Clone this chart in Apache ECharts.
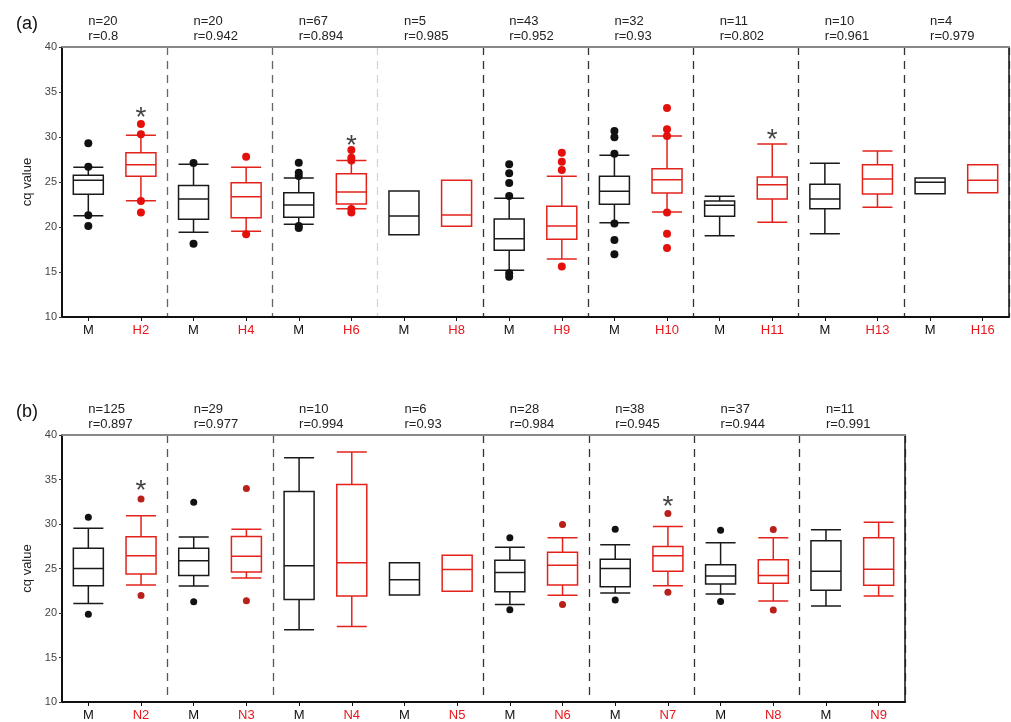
<!DOCTYPE html>
<html>
<head>
<meta charset="utf-8">
<script src="https://cdn.jsdelivr.net/npm/echarts@6/dist/echarts.min.js"></script>
<style>html,body{margin:0;padding:0;background:#fff}#c{width:1011px;height:722px}</style>
</head>
<body>
<div id="c"></div>
<script>
// ---------- Panel (a) ----------
const catsA = ['M','H2','M','H4','M','H6','M','H8','M','H9','M','H10','M','H11','M','H13','M','H16'];
// [min, Q1, median, Q3, max]
const boxesA = [
  [21.26,23.63,25.19,25.74,26.63],
  [22.93,25.63,26.93,28.26,30.2],
  [19.41,20.85,23.11,24.6,26.96],
  [19.52,21.04,23.37,24.93,26.63],
  [20.3,21.07,22.44,23.81,25.44],
  [22.04,22.56,23.89,25.93,27.4],
  [19.15,19.15,21.22,24.0,24.0],
  [20.08,20.08,21.33,25.19,25.19],
  [15.19,17.41,18.7,20.89,23.19],
  [16.44,18.63,20.11,22.3,25.63],
  [20.48,22.52,23.96,25.63,27.96],
  [21.67,23.78,25.26,26.48,30.11],
  [19.04,21.19,22.41,22.89,23.41],
  [20.52,23.11,24.7,25.56,29.22],
  [19.26,22.04,23.11,24.74,27.07],
  [22.19,23.67,25.33,26.93,28.44],
  [23.7,23.7,24.96,25.44,25.44],
  [23.81,23.81,25.19,26.93,26.93]
];
const outliersA_M = [[0,29.3],[0,26.7],[0,21.3],[0,20.1],[2,27.1],[2,18.15],[4,27.15],[4,26.04],[4,25.67],[4,20.1],[4,19.9],
  [8,26.96],[8,25.96],[8,24.89],[8,23.44],[8,14.85],[8,14.48],[10,30.67],[10,29.96],[10,28.15],[10,20.4],[10,18.56],[10,16.96]];
const outliersA_H = [[1,31.44],[1,30.3],[1,22.9],[1,21.6],[3,27.8],[3,19.2],[5,28.56],[5,27.7],[5,27.4],[5,22.0],[5,21.6],
  [9,28.26],[9,27.26],[9,26.33],[9,15.6],[11,33.22],[11,30.85],[11,30.1],[11,21.6],[11,19.26],[11,17.67]];
const starsA = [[1,32.9],[5,29.7],[13,30.4]];
const nA = [20,20,67,5,43,32,11,10,4];
const rA = ['0.8','0.942','0.894','0.985','0.952','0.93','0.802','0.961','0.979'];
const sepIdxA = [2,4,6,8,10,12,14,16];

// ---------- Panel (b) ----------
const catsB = ['M','N2','M','N3','M','N4','M','N5','M','N6','M','N7','M','N8','M','N9'];
const boxesB = [
  [21.07,23.06,24.99,27.27,29.53],
  [23.14,24.39,26.43,28.57,30.92],
  [23.03,24.21,25.87,27.27,28.53],
  [23.92,24.61,26.38,28.6,29.42],
  [18.12,21.51,25.32,33.66,37.45],
  [18.49,21.92,25.65,34.43,38.09],
  [22.03,22.03,23.73,25.65,25.65],
  [22.44,22.44,24.88,26.5,26.5],
  [20.96,22.4,24.55,25.94,27.38],
  [22.0,23.14,25.36,26.83,28.45],
  [22.26,22.95,24.99,26.05,27.68],
  [23.06,24.69,26.43,27.46,29.71],
  [22.14,23.25,24.17,25.43,27.9],
  [21.34,23.33,24.21,25.98,28.45],
  [20.78,22.55,24.69,28.12,29.34],
  [21.92,23.11,24.91,28.45,30.19]
];
const outliersB_M = [[0,30.75],[0,19.85],[2,32.44],[2,21.26],[8,28.45],[8,20.37],[10,29.42],[10,21.45],[12,29.31],[12,21.29]];
const outliersB_N = [[1,32.8],[1,21.96],[3,33.99],[3,21.37],[9,29.93],[9,20.96],[11,31.19],[11,22.33],[13,29.37],[13,20.34]];
const starsB = [[1,34.5],[11,32.7]];
const nB = [125,29,10,6,28,38,37,11];
const rB = ['0.897','0.977','0.994','0.93','0.984','0.945','0.944','0.991'];
const sepIdxB = [2,4,8,10,12,14];

const yTicks = {min:10, max:40, interval:5};

const FONT = '"Liberation Sans", Arial, sans-serif';
const BLACK = '#1a1a1a';
const RED = '#e3231b';
const RED_B = '#b8201a';

function bottomAxis(cats, gridIndex) {
  return {
    type:'category', gridIndex, data:cats, position:'bottom', boundaryGap:true,
    axisLine:{show:true, onZero:false, lineStyle:{color:'#111', width:2}},
    axisTick:{show:true, alignWithLabel:true, length:4, lineStyle:{color:'#111'}},
    axisLabel:{interval:0, fontSize:13, fontFamily:FONT, margin:7,
      color:(v,i)=> (v==='M' ? '#111' : '#e8161a')},
    splitLine:{show:false}
  };
}
function topAxis(cats, gridIndex, ns, rs, sepIdx, sepColors) {
  return {
    type:'category', gridIndex, data:cats, position:'top', boundaryGap:true,
    axisLine:{show:true, onZero:false, lineStyle:{color:'#888', width:2}},
    axisTick:{show:false},
    axisLabel:{interval:0, fontSize:13, fontFamily:FONT, color:'#222', margin:3, lineHeight:15, align:'left',
      formatter:(v,i)=> (i%2===0 ? 'n=' + ns[i/2] + '\nr=' + rs[i/2] : '')},
    splitLine:{show:true, interval:(i)=> sepIdx.indexOf(i) >= 0,
      lineStyle:{color:sepColors, type:[8,6], width:1.3}}
  };
}
function leftAxis(gridIndex) {
  return {
    type:'value', gridIndex, min:yTicks.min, max:yTicks.max, interval:yTicks.interval, position:'left',
    name:'cq value', nameLocation:'middle', nameGap:27, nameRotate:90,
    nameTextStyle:{fontSize:13, fontFamily:FONT, color:'#222'},
    axisLine:{show:true, lineStyle:{color:'#111', width:2}},
    axisTick:{show:true, length:3, lineStyle:{color:'#333'}},
    axisLabel:{fontSize:11, fontFamily:FONT, color:'#444', margin:5},
    splitLine:{show:false}
  };
}
function rightAxis(gridIndex) {
  return {
    type:'value', gridIndex, min:yTicks.min, max:yTicks.max, interval:yTicks.interval, position:'right',
    axisLine:{show:true, lineStyle:{color:'#111', width:1.5}},
    axisTick:{show:false}, axisLabel:{show:false}, splitLine:{show:false}
  };
}
function boxSeries(boxes, xi, yi, redColor) {
  return {
    type:'boxplot', xAxisIndex:xi, yAxisIndex:yi, boxWidth:[30,30], silent:true,
    data: boxes.map((b,i)=>({value:b, itemStyle:{color:'rgba(255,255,255,0)', borderColor: i%2===0 ? BLACK : redColor, borderWidth:1.5}})),
    emphasis:{disabled:true}
  };
}
function ptSeries(pts, xi, yi, color, size) {
  return {type:'scatter', xAxisIndex:xi, yAxisIndex:yi, data:pts, symbolSize:size, silent:true,
    itemStyle:{color, opacity:1}, emphasis:{disabled:true}};
}
function starSeries(pts, xi, yi) {
  return {type:'scatter', xAxisIndex:xi, yAxisIndex:yi, data:pts, symbolSize:1, silent:true,
    itemStyle:{color:'rgba(0,0,0,0)'},
    label:{show:true, position:'inside', formatter:'*', fontSize:28, fontFamily:FONT, color:'#111', offset:[0,7]},
    emphasis:{disabled:true}};
}

const chart = echarts.init(document.getElementById('c'), null, {renderer:'canvas'});
chart.setOption({
  backgroundColor:'#fff',
  animation:false,
  textStyle:{fontFamily:FONT},
  title:[
    {text:'(a)', left:11, top:10, textStyle:{fontSize:18, fontWeight:'normal', fontFamily:FONT, color:'#111'}},
    {text:'(b)', left:11, top:398, textStyle:{fontSize:18, fontWeight:'normal', fontFamily:FONT, color:'#111'}}
  ],
  grid:[
    {left:62, top:47, width:947, height:270, containLabel:false},
    {left:62, top:435, width:843, height:271, containLabel:false}
  ],
  xAxis:[
    bottomAxis(catsA, 0),
    topAxis(catsA, 0, nA, rA, sepIdxA, ['#666','#666','#d4d4d4','#333','#333','#333','#333','#333']),
    bottomAxis(catsB, 1),
    topAxis(catsB, 1, nB, rB, sepIdxB, ['#555','#555','#333','#333','#333','#333'])
  ],
  yAxis:[leftAxis(0), rightAxis(0), leftAxis(1), rightAxis(1)],
  series:[
    boxSeries(boxesA, 0, 0, RED),
    ptSeries(outliersA_M, 0, 0, '#111', 8),
    ptSeries(outliersA_H, 0, 0, '#e4100c', 8),
    starSeries(starsA, 0, 0),
    boxSeries(boxesB, 2, 2, RED),
    ptSeries(outliersB_M, 2, 2, '#111', 7),
    ptSeries(outliersB_N, 2, 2, RED_B, 7),
    starSeries(starsB, 2, 2)
  ]
});
</script>
</body>
</html>
